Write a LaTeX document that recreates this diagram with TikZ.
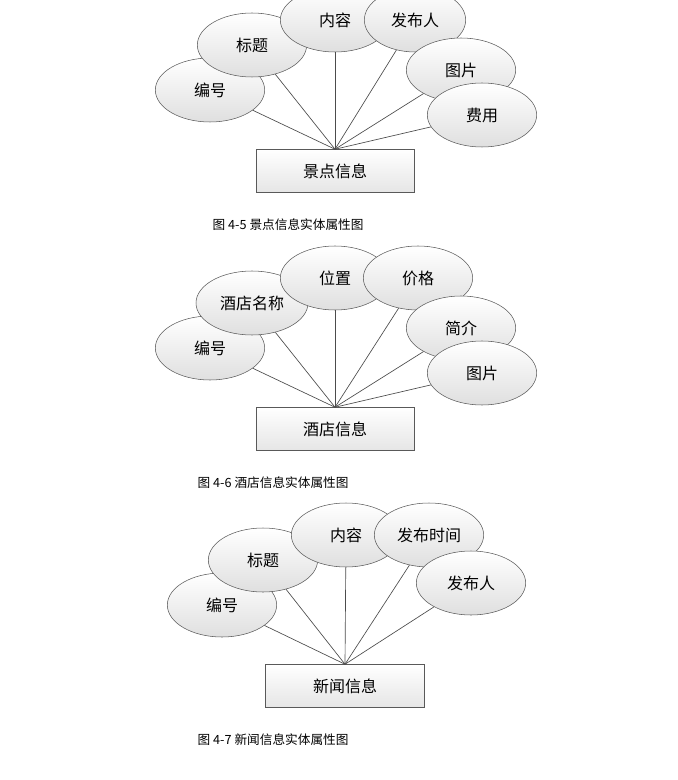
\documentclass[tikz,border=0pt]{standalone}
\usepackage{fontspec}
\setmainfont{Noto Sans CJK SC}
\usetikzlibrary{shapes.geometric}
\begin{document}
\begin{tikzpicture}[x=0.75pt,y=-0.75pt,
    attr/.style={ellipse,draw=gray!70!black,top color=white,bottom color=gray!25,minimum width=82,minimum height=48,inner sep=0pt,font=\fontsize{12}{14}\selectfont},
    ent/.style={rectangle,draw=gray!70!black,top color=white,bottom color=gray!20,minimum width=118.5,minimum height=32.25,font=\fontsize{12}{14}\selectfont},
    link/.style={draw=gray!60!black,line width=0.5pt},
    figcap/.style={font=\fontsize{9.5}{11}\selectfont,anchor=west}]
        \useasboundingbox (0,0) rectangle (677,780);
        % 景点信息
        \node[ent] (s) at (335,171) {景点信息};
        \node[attr] (s1) at (210,90) {编号};
        \node[attr] (s2) at (252,45) {标题};
        \node[attr] (s3) at (335,20) {内容};
        \node[attr,minimum width=76] (s4) at (415,20) {发布人};
        \node[attr] (s5) at (461,70) {图片};
        \node[attr] (s6) at (482,115) {费用};
        \foreach \i in {1,...,6}
            \draw[link] (s\i) -- (s.north);
        \node[figcap] (c1) at (208,225) {图 4-5 景点信息实体属性图};
        % 酒店信息
        \node[ent] (h) at (335,429) {酒店信息};
        \node[attr] (h1) at (210,348) {编号};
        \node[attr,minimum width=84] (h2) at (252,303) {酒店名称};
        \node[attr] (h3) at (335,278) {位置};
        \node[attr] (h4) at (418,278) {价格};
        \node[attr] (h5) at (461,328) {简介};
        \node[attr] (h6) at (482,373) {图片};
        \foreach \i in {1,...,6}
            \draw[link] (h\i) -- (h.north);
        \node[figcap] (c2) at (193,483) {图 4-6 酒店信息实体属性图};
        % 新闻信息
        \node[ent,minimum width=119] (n) at (345,686) {新闻信息};
        \node[attr] (n1) at (222,605) {编号};
        \node[attr] (n2) at (263,560) {标题};
        \node[attr] (n3) at (346,535) {内容};
        \node[attr] (n4) at (429,535) {发布时间};
        \node[attr] (n5) at (471,583) {发布人};
        \foreach \i in {1,...,5}
            \draw[link] (n\i) -- (n.north);
        \node[figcap] (c3) at (193,740) {图 4-7 新闻信息实体属性图};
\end{tikzpicture}
\end{document}
